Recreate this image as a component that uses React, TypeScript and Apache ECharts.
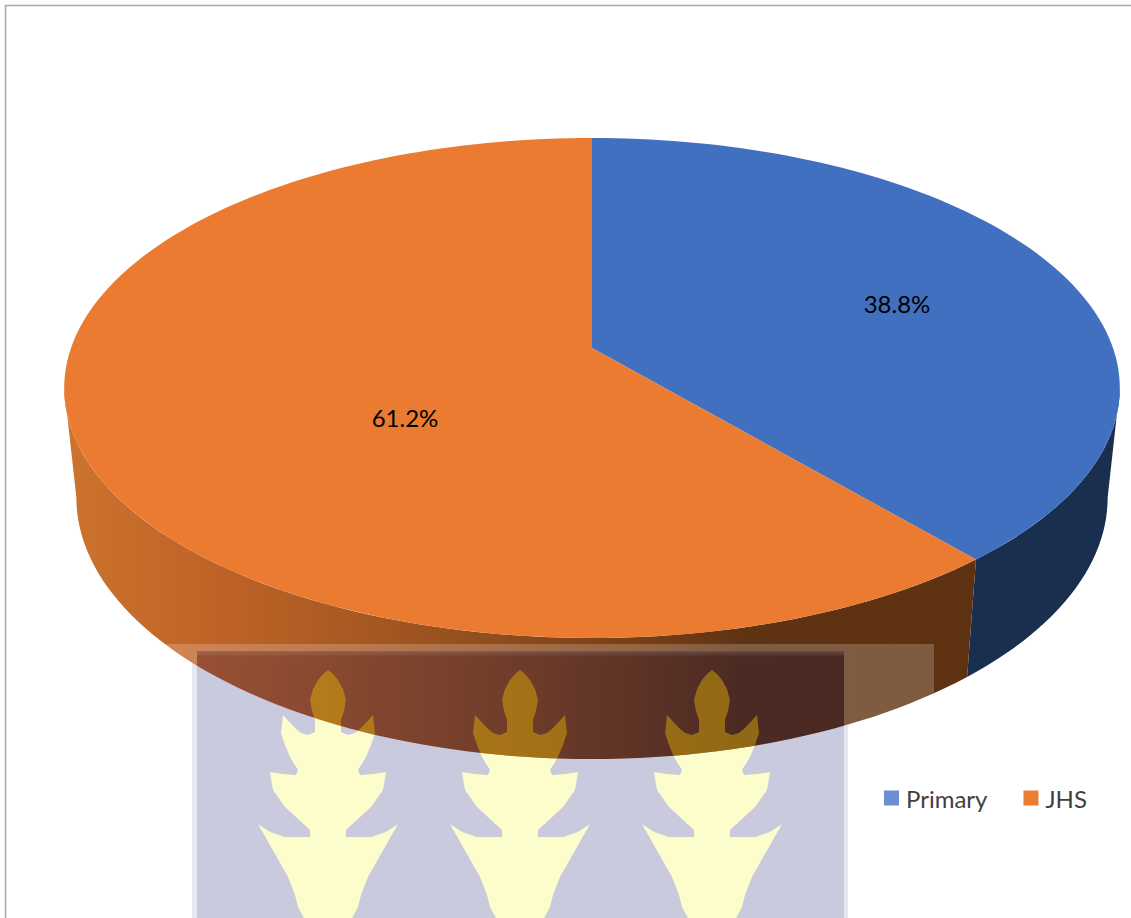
import React, { useEffect, useRef } from "react";
import * as echarts from "echarts";

// Shares of the two school levels, in percent
const categories = ["Primary", "JHS"];
const shares = [38.8, 61.2];
const labels = ["38.8%", "61.2%"];

const topColors = ["#4170C0", "#EB7B31"];
const legendColors = ["#6A8ED0", "#ED7D31"];
const FONT = "Lato";

// Perspective disc: a rim point at angle t (clockwise from the back) is projected
// as x = cx + a*u/(1-k*v), y = cy + b*v/(1-k*v) with u = sin t, v = -cos t.
const TOP_FACE = { cx: 592, cy: 348, a: 521, b: 243.6, k: 0.16 };
const BOTTOM_FACE = { cx: 592, cy: 455.7, a: 509, b: 254.8, k: 0.16 };

type Face = typeof TOP_FACE;
const rim = (f: Face, deg: number): number[] => {
  const t = (deg * Math.PI) / 180;
  const u = Math.sin(t);
  const v = -Math.cos(t);
  const d = 1 - f.k * v;
  return [f.cx + (f.a * u) / d, f.cy + (f.b * v) / d];
};
const arc = (f: Face, from: number, to: number): number[][] => {
  const steps = Math.max(2, Math.ceil(Math.abs(to - from) / 1.5));
  const out: number[][] = [];
  for (let i = 0; i <= steps; i++) out.push(rim(f, from + ((to - from) * i) / steps));
  return out;
};

// Angles where the slices meet, derived from the shares
const total = shares[0] + shares[1];
const splitDeg = (shares[0] / total) * 360;
// Rim angle where the side wall starts being visible
const tangentDeg = (Math.acos(-TOP_FACE.k) * 180) / Math.PI;

const wall = (from: number, to: number) => [
  ...arc(TOP_FACE, from, to),
  ...arc(BOTTOM_FACE, to, from),
];

const jhsWallFill = new echarts.graphic.LinearGradient(
  64, 0, 975, 0,
  [
    { offset: 0, color: "#CC742E" },
    { offset: 0.15, color: "#C16428" },
    { offset: 0.31, color: "#AA5A22" },
    { offset: 0.48, color: "#8F4C1C" },
    { offset: 0.63, color: "#773F16" },
    { offset: 0.74, color: "#603413" },
    { offset: 1, color: "#5E3211" },
  ],
  true,
);

// Half outline of the crest emblem, mirrored about its axis
const crestHalf = [
  [0, 0], [5, 4], [10, 10], [15, 19], [18, 30], [16, 41], [13, 50], [13, 62], [20, 65], [27, 63],
  [33, 58], [45, 45], [47, 63], [43, 75], [38, 87], [30, 100], [32, 105], [45, 104], [58, 102],
  [55, 120], [43, 137], [18, 160], [18, 167], [43, 167], [58, 162], [70, 154], [57, 177],
  [40, 207], [33, 225], [30, 237], [23, 250],
];
const crestCentres = [328, 520, 712];
const CREST_TOP = 670;
const crest = (cx: number) => [
  ...crestHalf.map(([dx, dy]) => [cx + dx, CREST_TOP + dy]),
  ...crestHalf.slice().reverse().map(([dx, dy]) => [cx - dx, CREST_TOP + dy]),
];

const stampBack = () => ({
  type: "group",
  children: [
    { type: "rect", shape: { x: 192, y: 651, width: 656, height: 267 }, style: { fill: "#E6E7EF" } },
    { type: "rect", shape: { x: 197, y: 651, width: 647, height: 267 }, style: { fill: "#C9CADD" } },
    ...crestCentres.map((c) => ({
      type: "polygon",
      shape: { points: crest(c) },
      style: { fill: "#FDFCCB" },
    })),
  ],
});

// Stamp as it shows through the side wall, clipped to the wall's silhouette
const stampFront = () => ({
  type: "group",
  clipPath: { type: "polygon", shape: { points: wall(tangentDeg, 360 - tangentDeg) } },
  children: [
    { type: "rect", shape: { x: 160, y: 644, width: 37, height: 274 }, style: { fill: "rgba(255,255,255,0.2)" } },
    { type: "rect", shape: { x: 197, y: 644, width: 647, height: 7 }, style: { fill: "rgba(255,255,255,0.2)" } },
    {
      type: "rect",
      shape: { x: 197, y: 651, width: 647, height: 6 },
      style: {
        fill: new echarts.graphic.LinearGradient(0, 0, 0, 1, [
          { offset: 0, color: "rgba(255,255,255,0.2)" },
          { offset: 1, color: "rgba(255,255,255,0)" },
        ]),
      },
    },
    { type: "rect", shape: { x: 844, y: 644, width: 90, height: 274 }, style: { fill: "rgba(255,255,255,0.2)" } },
    { type: "rect", shape: { x: 197, y: 651, width: 647, height: 267 }, style: { fill: "rgba(5,9,95,0.22)" } },
    ...crestCentres.map((c) => ({
      type: "polygon",
      shape: { points: crest(c) },
      style: { fill: "rgba(240,190,0,0.42)" },
    })),
  ],
});

const labelText = (text: string, x: number, y: number) => ({
  type: "text",
  style: {
    text,
    x,
    y,
    fill: "#000000",
    font: `24px ${FONT}`,
    align: "center",
    verticalAlign: "middle",
  },
});

export default function App() {
  const ref = useRef<HTMLDivElement>(null);

  useEffect(() => {
    document.body.style.margin = "0";
    const chart = echarts.init(ref.current!, undefined, { renderer: "svg" });
    chart.setOption({
      animation: false,
      backgroundColor: "#FFFFFF",
      legend: {
        left: 884,
        top: 786,
        padding: 0,
        icon: "rect",
        itemWidth: 15,
        itemHeight: 15,
        itemGap: 36,
        selectedMode: false,
        textStyle: { fontFamily: FONT, fontSize: 24, color: "#404040", padding: [0, 0, 0, 2] },
        data: categories.map((name, i) => ({
          name,
          icon: "rect",
          itemStyle: { color: legendColors[i] },
        })),
      },
      graphic: [
        {
          type: "polyline",
          shape: { points: [[5.5, 918], [5.5, 5.5], [1131, 5.5]] },
          style: { stroke: "#A8A8A8", lineWidth: 1.5, fill: "none" },
        },
      ],
      series: [
        {
          type: "custom",
          coordinateSystem: "none",
          name: "stamp",
          z: 1,
          silent: true,
          data: [0],
          renderItem: () => stampBack(),
        },
        {
          type: "custom",
          coordinateSystem: "none",
          name: categories[0],
          z: 2,
          data: [shares[0]],
          itemStyle: { color: legendColors[0] },
          renderItem: () => ({
            type: "group",
            children: [
              {
                type: "polygon",
                shape: { points: wall(tangentDeg, splitDeg) },
                style: { fill: "#1A2E50" },
              },
              {
                type: "polygon",
                shape: { points: [[TOP_FACE.cx, TOP_FACE.cy], ...arc(TOP_FACE, 0, splitDeg)] },
                style: { fill: topColors[0] },
              },
            ],
          }),
        },
        {
          type: "custom",
          coordinateSystem: "none",
          name: categories[1],
          z: 3,
          data: [shares[1]],
          itemStyle: { color: legendColors[1] },
          renderItem: () => ({
            type: "group",
            children: [
              {
                type: "polygon",
                shape: { points: wall(splitDeg, 360 - tangentDeg) },
                style: { fill: jhsWallFill },
              },
              {
                type: "polygon",
                shape: { points: [[TOP_FACE.cx, TOP_FACE.cy], ...arc(TOP_FACE, splitDeg, 360)] },
                style: { fill: topColors[1] },
              },
            ],
          }),
        },
        {
          type: "custom",
          coordinateSystem: "none",
          name: "stamp-front",
          z: 4,
          silent: true,
          data: [0],
          renderItem: () => stampFront(),
        },
        {
          type: "custom",
          coordinateSystem: "none",
          name: "labels",
          z: 5,
          silent: true,
          data: [0],
          renderItem: () => ({
            type: "group",
            children: [labelText(labels[0], 897, 303), labelText(labels[1], 405, 417)],
          }),
        },
      ],
    });
    return () => chart.dispose();
  }, []);

  return <div ref={ref} style={{ width: 1131, height: 918, overflow: "hidden" }} />;
}
